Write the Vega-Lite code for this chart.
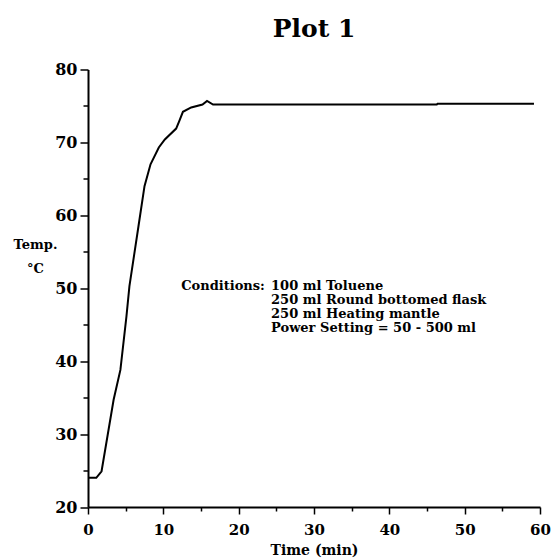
{
  "$schema": "https://vega.github.io/schema/vega-lite/v6.json",
  "autosize": {"type": "none"},
  "padding": {"left": 88, "top": 69.5, "right": 11, "bottom": 51},
  "width": 452,
  "height": 437.5,
  "background": "white",
  "title": {"text": "Plot 1", "font": "DejaVu Serif", "fontSize": 25, "fontWeight": "bold", "color": "black", "anchor": "middle", "baseline": "alphabetic", "offset": 0},
  "config": {
    "view": {"stroke": null},
    "axisX": {
      "values": [0,2,4,6,8,10,12,14,16,18,20,22,24,26,28,30,32,34,36,38,40,42,44,46,48,50,52,54,56,58,60],
      "labelExpr": "datum.value % 10 === 0 ? datum.label : ''",
      "tickSize": {"condition": {"test": "datum.value % 10 === 0", "value": 7}, "value": 4},
      "grid": false,
      "domainColor": "black", "domainWidth": 2,
      "tickColor": "black", "tickWidth": 1.5,
      "labelFont": "DejaVu Serif", "labelFontWeight": "bold", "labelFontSize": 15, "labelColor": "black",
      "labelPadding": 8, "labelFlush": false, "labelOverlap": false,
      "titleFont": "DejaVu Serif", "titleFontWeight": "bold", "titleFontSize": 14, "titleColor": "black", "titlePadding": 6
    },
    "axisY": {
      "values": [20,22,24,26,28,30,32,34,36,38,40,42,44,46,48,50,52,54,56,58,60,62,64,66,68,70,72,74,76,78,80],
      "labelExpr": "datum.value % 10 === 0 ? datum.label : ''",
      "tickSize": {"condition": {"test": "datum.value % 10 === 0", "value": 8}, "value": 5},
      "grid": false,
      "domainColor": "black", "domainWidth": 2,
      "tickColor": "black", "tickWidth": 1.5,
      "labelFont": "DejaVu Serif", "labelFontWeight": "bold", "labelFontSize": 16, "labelColor": "black",
      "labelPadding": 3, "labelFlush": false, "labelOverlap": false,
      "titleFont": "DejaVu Serif", "titleFontWeight": "bold", "titleFontSize": 13, "titleColor": "black",
      "titleAngle": 0, "titleAlign": "center", "titleBaseline": "alphabetic", "titleLineHeight": 24,
      "titleX": -53, "titleY": 178.5
    }
  },
  "layer": [
    {
      "data": {"values": [
        {"t": 0, "temp": 24},
        {"t": 1.1, "temp": 24},
        {"t": 1.8, "temp": 24.9},
        {"t": 3.4, "temp": 34.7},
        {"t": 4.3, "temp": 38.8},
        {"t": 5.1, "temp": 46.1},
        {"t": 5.5, "temp": 50.3},
        {"t": 6.7, "temp": 58.5},
        {"t": 7.5, "temp": 64},
        {"t": 8.3, "temp": 67},
        {"t": 9.4, "temp": 69.3},
        {"t": 10.2, "temp": 70.4},
        {"t": 11.7, "temp": 71.9},
        {"t": 12.1, "temp": 72.9},
        {"t": 12.6, "temp": 74.2},
        {"t": 13.7, "temp": 74.8},
        {"t": 15.2, "temp": 75.2},
        {"t": 15.8, "temp": 75.7},
        {"t": 16.6, "temp": 75.2},
        {"t": 46.3, "temp": 75.2},
        {"t": 46.4, "temp": 75.3},
        {"t": 59.2, "temp": 75.3}
      ]},
      "mark": {"type": "line", "color": "black", "strokeWidth": 2},
      "encoding": {
        "x": {"field": "t", "type": "quantitative", "title": "Time (min)",
          "scale": {"domain": [0, 60], "nice": false, "zero": false}},
        "y": {"field": "temp", "type": "quantitative", "title": ["Temp.", "°C"],
          "scale": {"domain": [20, 80], "nice": false, "zero": false}}
      }
    },
    {
      "data": {"values": [{"note": "Conditions:"}]},
      "mark": {"type": "text", "align": "left", "baseline": "alphabetic", "font": "DejaVu Serif", "fontWeight": "bold", "fontSize": 13, "color": "black"},
      "encoding": {
        "text": {"field": "note"},
        "x": {"datum": 12.37, "type": "quantitative"},
        "y": {"datum": 49.8, "type": "quantitative"}
      }
    },
    {
      "data": {"values": [{"note": "100 ml Toluene"}]},
      "mark": {"type": "text", "text": ["100 ml Toluene", "250 ml Round bottomed flask", "250 ml Heating mantle", "Power Setting = 50 - 500 ml"], "align": "left", "baseline": "alphabetic", "lineHeight": 14, "font": "DejaVu Serif", "fontWeight": "bold", "fontSize": 13, "color": "black"},
      "encoding": {
        "x": {"datum": 24.3, "type": "quantitative"},
        "y": {"datum": 49.8, "type": "quantitative"}
      }
    }
  ]
}
